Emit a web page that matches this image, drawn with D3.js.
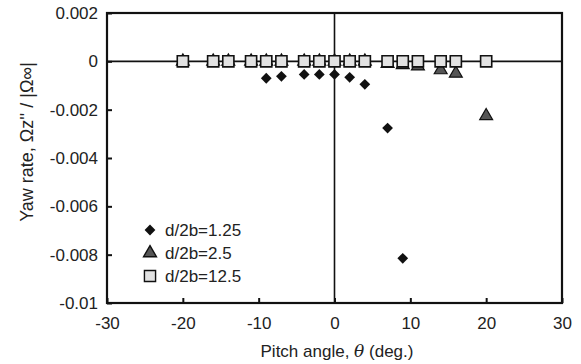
<!DOCTYPE html>
<html>
<head>
<meta charset="utf-8">
<script src="https://cdn.jsdelivr.net/npm/d3@7"></script>
<style>
  body { margin: 0; background: #fff; }
  text { font-family: "Liberation Sans", Arial, sans-serif; fill: #222; }
</style>
</head>
<body>
<div id="chart"></div>
<script>
// pitch angles (deg.)
var angles = [-20, -16, -14, -11, -9, -7, -4, -2, 0, 2, 4, 7, 9, 11, 14, 16, 20];
// d/2b = 1.25 (diamonds)
var diamondX = [-20, -16, -14, -11, -9, -7, -4, -2, 0, 2, 4, 7, 9];
var diamondY = [0, 0, 0, 0, -0.0007, -0.00062, -0.00054, -0.00054, -0.00054, -0.00066, -0.00095, -0.00276, -0.00815];
// d/2b = 2.5 (triangles)
var triX = angles;
var triY = [0, 0, 0, 0, 0, 0, 0, 0, 0, 0, 0, -0.0001, -0.00015, -0.0002, -0.00036, -0.0005, -0.00226];
// d/2b = 12.5 (squares)
var sqX = angles;
var sqY = [0, 0, 0, 0, 0, 0, 0, 0, 0, 0, 0, 0, 0, 0, 0, 0, 0];

var xTicks = [-30, -20, -10, 0, 10, 20, 30];
var xTickLabels = ["-30", "-20", "-10", "0", "10", "20", "30"];
var yTicks = [0.002, 0, -0.002, -0.004, -0.006, -0.008, -0.01];
var yTickLabels = ["0.002", "0", "-0.002", "-0.004", "-0.006", "-0.008", "-0.01"];
var legendLabels = ["d/2b=1.25", "d/2b=2.5", "d/2b=12.5"];

var width = 581, height = 364;
var margin = { top: 13, right: 19, bottom: 61, left: 107 };

var svg = d3.select("#chart").append("svg")
  .attr("width", width)
  .attr("height", height);

var x = d3.scaleLinear().domain([-30, 30]).range([margin.left, width - margin.right]);
var y = d3.scaleLinear().domain([-0.01, 0.002]).range([height - margin.bottom, margin.top]);

// zero lines
svg.append("line")
  .attr("x1", x(-30)).attr("x2", x(30))
  .attr("y1", y(0)).attr("y2", y(0))
  .attr("stroke", "#111").attr("stroke-width", 1.6);
svg.append("line")
  .attr("x1", x(0)).attr("x2", x(0))
  .attr("y1", y(0.002)).attr("y2", y(-0.01))
  .attr("stroke", "#111").attr("stroke-width", 1.6);

// axes (ticks inward)
var xAxis = svg.append("g")
  .attr("transform", `translate(0,${y(-0.01)})`)
  .call(d3.axisBottom(x).tickValues(xTicks).tickSizeInner(-5).tickSizeOuter(0).tickPadding(14)
    .tickFormat((d, i) => xTickLabels[i]));

var yAxis = svg.append("g")
  .attr("transform", `translate(${x(-30)},0)`)
  .call(d3.axisLeft(y).tickValues(yTicks).tickSizeInner(-5).tickSizeOuter(0).tickPadding(9)
    .tickFormat((d, i) => yTickLabels[i]));

[xAxis, yAxis].forEach(function (g) {
  g.selectAll("text").attr("font-size", 17).attr("font-family", "Liberation Sans, Arial, sans-serif").attr("fill", "#222");
  g.selectAll("line").attr("stroke", "#111").attr("stroke-width", 2);
  g.select(".domain").remove();
});

// frame
svg.append("rect")
  .attr("x", x(-30)).attr("y", y(0.002))
  .attr("width", x(30) - x(-30)).attr("height", y(-0.01) - y(0.002))
  .attr("fill", "none").attr("stroke", "#111").attr("stroke-width", 2.2);

// markers
var diamond = d3.symbol().type(d3.symbolSquare).size(58);
var tri = d3.symbol().type(d3.symbolTriangle).size(72);
var sq = d3.symbol().type(d3.symbolSquare).size(124);

svg.append("g").selectAll("path")
  .data(diamondX.map((d, i) => [d, diamondY[i]]))
  .join("path")
  .attr("d", diamond)
  .attr("transform", d => `translate(${x(d[0])},${y(d[1])}) rotate(45)`)
  .attr("fill", "#111");

svg.append("g").selectAll("path")
  .data(triX.map((d, i) => [d, triY[i]]))
  .join("path")
  .attr("d", tri)
  .attr("transform", d => `translate(${x(d[0])},${y(d[1])})`)
  .attr("fill", "#555").attr("stroke", "#111").attr("stroke-width", 1.2);

svg.append("g").selectAll("path")
  .data(sqX.map((d, i) => [d, sqY[i]]))
  .join("path")
  .attr("d", sq)
  .attr("transform", d => `translate(${x(d[0])},${y(d[1])})`)
  .attr("fill", "#e2e2e2").attr("stroke", "#111").attr("stroke-width", 1.6);

// legend
var legend = svg.append("g").attr("transform", "translate(150,230)");
var legendSymbols = [
  { sym: diamond, rot: 45, fill: "#111", stroke: "none" },
  { sym: tri, rot: 0, fill: "#555", stroke: "#111" },
  { sym: sq, rot: 0, fill: "#e2e2e2", stroke: "#111" }
];
legendLabels.forEach(function (lab, i) {
  var row = legend.append("g").attr("transform", `translate(0,${i * 23})`);
  row.append("path")
    .attr("d", legendSymbols[i].sym)
    .attr("transform", `rotate(${legendSymbols[i].rot})`)
    .attr("fill", legendSymbols[i].fill)
    .attr("stroke", legendSymbols[i].stroke)
    .attr("stroke-width", 1.4);
  row.append("text")
    .attr("x", 15).attr("y", 6)
    .attr("font-size", 17)
    .text(lab);
});

// axis titles
svg.append("text")
  .attr("x", 337).attr("y", 357)
  .attr("text-anchor", "middle")
  .attr("font-size", 17)
  .html('Pitch angle,  <tspan font-style="italic" font-family="DejaVu Serif, serif">θ</tspan>  (deg.)');

svg.append("text")
  .attr("transform", "translate(33,142) rotate(-90)")
  .attr("text-anchor", "middle")
  .attr("font-size", 18)
  .text("Yaw rate,  Ωz'' / |Ω∞|");
</script>
</body>
</html>
